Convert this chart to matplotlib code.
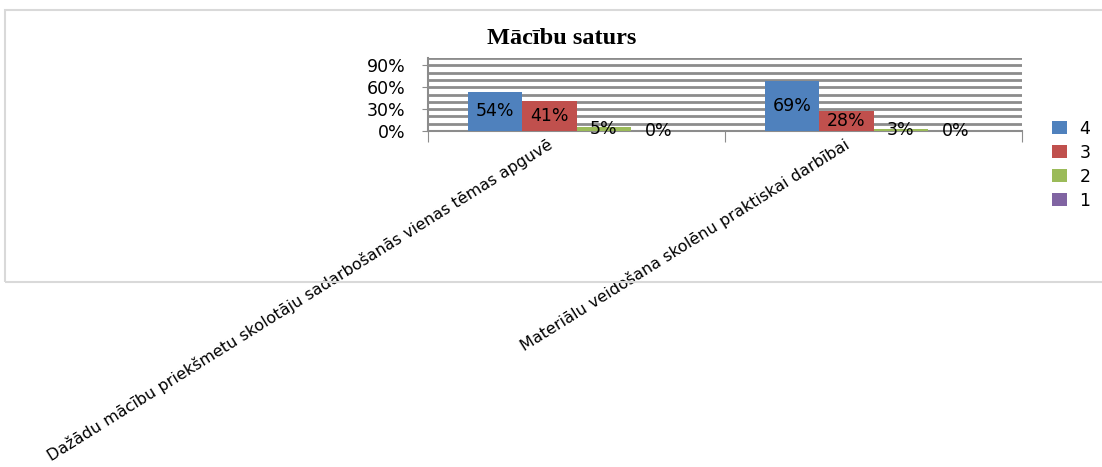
import numpy as np
import matplotlib
matplotlib.use('Agg')
import matplotlib.pyplot as plt
from matplotlib.patches import Rectangle, Patch

# dati
kategorijas = ["Dažādu mācību priekšmetu skolotāju sadarbošanās vienas tēmas apguvē",
               "Materiālu veidošana skolēnu praktiskai darbībai"]
serijas = ["4", "3", "2", "1"]
v4 = [0.54, 0.69]
v3 = [0.41, 0.28]
v2 = [0.05, 0.03]
v1 = [0.0, 0.0]
vertibas = [v4, v3, v2, v1]
krasas = ["#4F81BD", "#C0504D", "#9BBB59", "#8064A2"]
y_ticks = [0, 0.3, 0.6, 0.9]
y_labels = ["0%", "30%", "60%", "90%"]

W, H = 1102, 467
fig = plt.figure(figsize=(W / 100, H / 100), dpi=100)

# chart border
fig.patches.append(Rectangle((5 / W, (H - 282) / H), 1.2, (282 - 10) / H,
                             transform=fig.transFigure, fill=False,
                             edgecolor="#D9D9D9", linewidth=1.5))

ax = fig.add_axes([428 / W, (H - 131) / H, (1022 - 428) / W, 73 / H])
x = np.arange(len(kategorijas))
bw = 0.1835
for i, (vals, c) in enumerate(zip(vertibas, krasas)):
    pos = x - 1.5 * bw + i * bw
    ax.bar(pos, vals, width=bw, color=c, zorder=3, label=serijas[i])
    for p, v in zip(pos, vals):
        ax.text(p, v / 2, f"{round(v * 100)}%", ha="center", va="center",
                fontsize=12.5, zorder=4)

ax.set_xlim(-0.5, 1.5)
ax.set_ylim(0, 1.0)
for g in np.arange(0.1, 1.01, 0.1):
    ax.axhline(g, color="#8C8C8C", linewidth=2, zorder=1)

ax.set_yticks(y_ticks)
ax.set_yticklabels(y_labels, fontsize=12.5)
ax.tick_params(axis="y", length=4, color="#8C8C8C", direction="out", pad=12)
ax.set_xticks([-0.5, 0.5, 1.5])
ax.set_xticklabels([])
ax.tick_params(axis="x", length=8, color="#8C8C8C", direction="out")
for s in ["top", "right"]:
    ax.spines[s].set_visible(False)
for s in ["left", "bottom"]:
    ax.spines[s].set_color("#8C8C8C")
    ax.spines[s].set_linewidth(1.5)

# category labels
for xi, lab in zip(x, kategorijas):
    ax.text(xi - 0.1, -0.08, lab, rotation=32, rotation_mode="anchor",
            ha="right", va="top", fontsize=11.5, transform=ax.transData,
            clip_on=False)

fig.text(562 / W, (H - 38) / H, "Mācību saturs", ha="center", va="center",
         fontsize=17.5, fontweight="bold", family="Liberation Serif")

handles = [Patch(facecolor=c, label=s) for c, s in zip(krasas, serijas)]
fig.legend(handles=handles, loc="upper left",
           bbox_to_anchor=(1036 / W, (H - 104) / H), frameon=False,
           fontsize=12.5, handlelength=0.9, handleheight=0.8,
           labelspacing=0.35, handletextpad=0.7)

fig.savefig("out.png", dpi=100)
